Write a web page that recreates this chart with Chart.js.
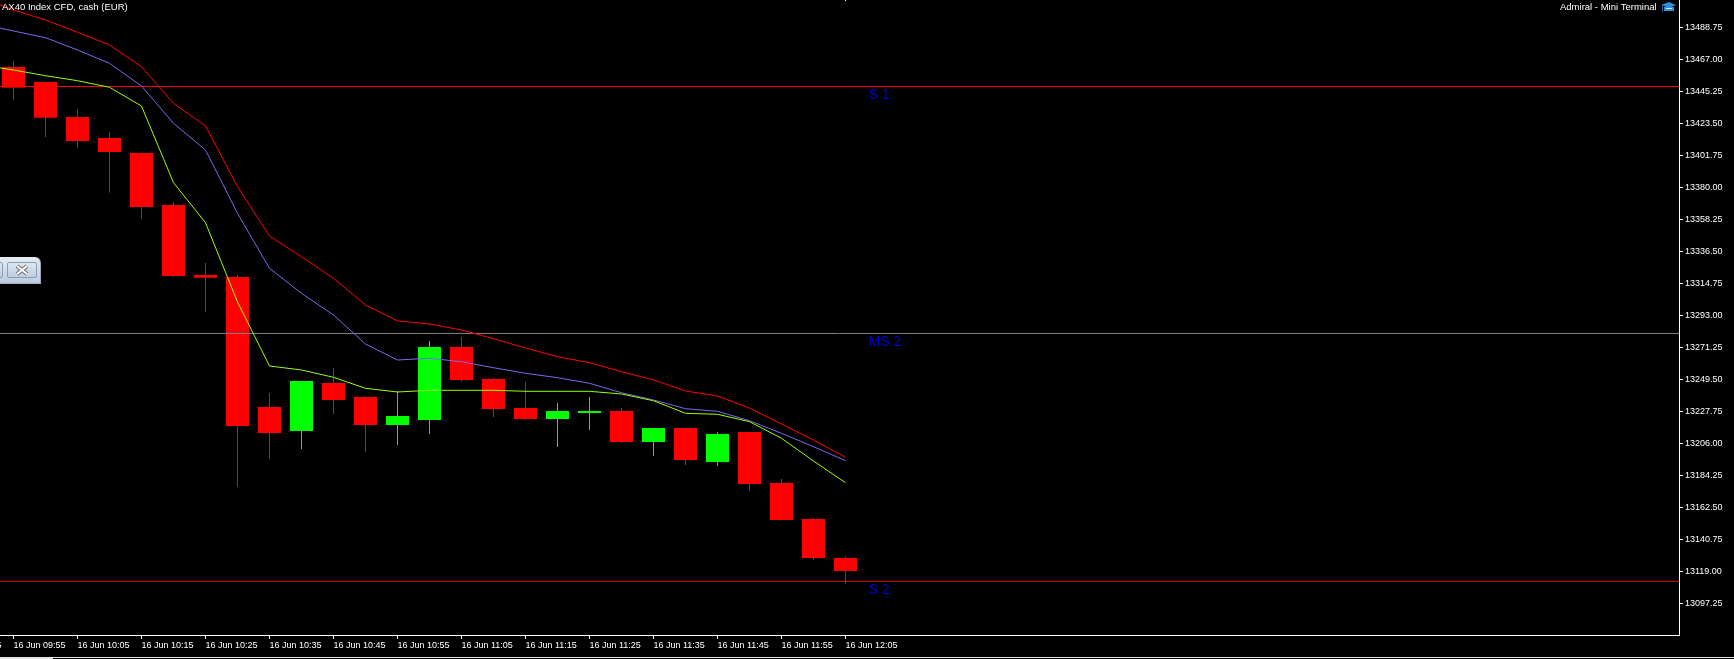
<!DOCTYPE html>
<html>
<head>
<meta charset="utf-8">
<title>AX40 Index CFD</title>
<script src="https://cdn.jsdelivr.net/npm/chart.js@4"></script>
<style>
html, body { margin: 0; padding: 0; background: #000; overflow: hidden; }
#wrap { position: relative; width: 1734px; height: 659px; }
#chart { position: absolute; left: 0; top: 0; }
#closer { position: absolute; left: 0; top: 257px; width: 41px; height: 27px; border-top-right-radius: 6px;
  background: linear-gradient(#e6ecf3, #bccbdd); border-bottom: 1px solid #9aa8b8; border-right: 1px solid #9aa8b8; box-sizing: border-box; }
#closer .btn { position: absolute; top: 5px; height: 16px; border: 1px solid #8c9db3; border-radius: 2px; background: linear-gradient(#dfe7f1, #bdcde0); box-sizing: border-box; }
#stripe { position: absolute; left: 0; top: 657px; width: 1734px; height: 1px; background: #e4e4e4; }
#stripe2 { position: absolute; left: 0; top: 658px; width: 53px; height: 1px; background: #e4e4e4; }
</style>
</head>
<body>
<div id="wrap">
  <canvas id="chart" width="1734" height="657"></canvas>
  <div id="closer">
    <div class="btn" style="left:-10px;width:13px"></div>
    <div class="btn" style="left:7px;width:30px">
      <svg width="28" height="14" style="display:block"><path d="M9 3L19 11M19 3L9 11" stroke="#6b6b6b" stroke-width="4"/><path d="M9 3L19 11M19 3L9 11" stroke="#fff" stroke-width="2"/></svg>
    </div>
  </div>
  <div id="stripe"></div>
  <div id="stripe2"></div>
</div>
<script>
// bar 0 = 16 Jun 09:55, 5 minute bars
var open = [13461.79,13451.59,13427.81,13413.53,13403.34,13367.99,13320.41,13319.05,13230.69,13214.38,13247.00,13237.49,13218.46,13221.86,13271.47,13249.72,13230.01,13222.54,13226.61,13227.97,13206.90,13216.42,13193.31,13213.70,13179.03,13154.57,13128.06];
var high = [13465.87,13451.59,13433.24,13417.61,13403.34,13370.03,13328.57,13320.41,13240.21,13248.36,13257.20,13237.49,13241.57,13275.55,13278.27,13250.40,13247.68,13233.41,13237.49,13230.01,13216.42,13216.42,13213.70,13213.70,13181.75,13155.25,13129.42];
var low = [13439.56,13414.21,13406.94,13376.35,13358.48,13319.05,13295.47,13176.52,13195.35,13202.14,13225.93,13200.11,13204.86,13212.34,13247.68,13223.90,13222.54,13203.50,13215.06,13206.22,13197.39,13191.27,13190.59,13173.60,13153.89,13126.70,13110.39];
var close = [13447.72,13427.33,13411.49,13404.02,13366.63,13319.73,13318.58,13217.78,13213.02,13248.36,13235.45,13218.46,13224.57,13271.47,13249.04,13229.33,13222.54,13227.97,13227.97,13206.90,13216.42,13194.67,13212.34,13178.36,13153.89,13128.06,13119.22];

// moving averages start one bar before the first candle
var maRed = [13508.69,13500.53,13493.74,13485.38,13476.74,13461.99,13437.12,13421.69,13380.43,13346.92,13332.85,13318.17,13300.02,13289.15,13287.11,13283.03,13277.11,13270.80,13264.88,13260.81,13254.69,13249.04,13241.57,13238.17,13230.01,13219.14,13208.27,13196.51];
var maBlue = [13491.02,13486.26,13481.71,13473.35,13464.31,13448.88,13423.52,13405.37,13362.35,13324.97,13307.97,13293.22,13273.51,13262.64,13263.79,13261.48,13257.40,13253.60,13250.61,13246.80,13240.41,13235.45,13229.54,13227.77,13221.38,13212.81,13203.70,13194.20];
var maGreen = [13463.15,13459.75,13455.88,13452.48,13447.99,13435.28,13383.15,13355.96,13302.06,13258.56,13255.84,13250.88,13243.40,13240.89,13242.04,13242.04,13242.04,13241.36,13241.36,13241.36,13239.53,13234.97,13226.42,13225.74,13220.71,13209.42,13193.99,13179.24];

var levelNames = ["S 1", "MS 2", "S 2"];
var levelValues = [13448.54, 13280.65, 13112.09];
var levelColors = ["#ff0000", "#808080", "#d40000"];

var yTicks = [13488.75,13467.00,13445.25,13423.50,13401.75,13380.00,13358.25,13336.50,13314.75,13293.00,13271.25,13249.50,13227.75,13206.00,13184.25,13162.50,13140.75,13119.00,13097.25];
var xTickBars = [-2,0,2,4,6,8,10,12,14,16,18,20,22,24,26];
var xTickLabels = ["16 Jun 09:45","16 Jun 09:55","16 Jun 10:05","16 Jun 10:15","16 Jun 10:25","16 Jun 10:35","16 Jun 10:45","16 Jun 10:55","16 Jun 11:05","16 Jun 11:15","16 Jun 11:25","16 Jun 11:35","16 Jun 11:45","16 Jun 11:55","16 Jun 12:05"];

var UP = "#00ff00", DOWN = "#ff0000";
var xMin = -0.421875, xMax = 52.046875;
var yMax = 13507.33, yMin = 13075.72;

var colors = open.map(function (o, i) { return close[i] > o ? UP : DOWN; });
var wicks = open.map(function (o, i) { return { x: i, y: [low[i], high[i]] }; });
var bodies = open.map(function (o, i) { return { x: i, y: [o, close[i]] }; });

function maLine(name, values, color, order) {
    return {
        type: "line", label: name, order: order, borderColor: color, borderWidth: 1,
        pointRadius: 0, tension: 0, fill: false,
        data: values.map(function (v, i) { return { x: i - 1, y: v }; })
    };
}

var datasets = [
    { type: "bar", label: "wick", order: 6, grouped: false, barThickness: 1, inflateAmount: 0, backgroundColor: colors, data: wicks },
    { type: "bar", label: "body", order: 5, grouped: false, barThickness: 23, inflateAmount: 0, backgroundColor: colors, data: bodies },
    maLine("MA slow", maRed, "#ff0000", 2),
    maLine("MA mid", maBlue, "#7b68ee", 1),
    maLine("MA fast", maGreen, "#9aff00", 0)
];
levelValues.forEach(function (v, i) {
    datasets.push({
        type: "line", label: levelNames[i], order: 3, borderColor: levelColors[i], borderWidth: 1,
        pointRadius: 0, data: [{ x: xMin, y: v }, { x: xMax, y: v }]
    });
});

// texts and the small terminal marks
var overlay = {
    id: "overlay",
    afterDraw: function (chart) {
        var ctx = chart.ctx, sx = chart.scales.x, sy = chart.scales.y;
        ctx.save();
        ctx.textBaseline = "alphabetic";
        ctx.textAlign = "left";
        ctx.fillStyle = "#0000cd";
        ctx.font = "14px 'Liberation Sans'";
        levelNames.forEach(function (t, i) {
            ctx.fillText(t, sx.getPixelForValue(26.72), sy.getPixelForValue(levelValues[i]) + 13);
        });
        ctx.fillStyle = "#ffffff";
        ctx.font = "9.5px 'Liberation Sans'";
        ctx.fillText("AX40 Index CFD, cash (EUR)", 2, 10);
        ctx.fillText("Admiral - Mini Terminal", 1560, 10);
        ctx.fillRect(Math.floor(sx.getPixelForValue(26)), 0, 1, 1);
        // graduation cap icon
        ctx.fillStyle = "#2f8fd8";
        ctx.beginPath();
        ctx.moveTo(1661, 5); ctx.lineTo(1669, 2); ctx.lineTo(1676, 5); ctx.lineTo(1669, 8);
        ctx.fill();
        ctx.fillRect(1664, 7, 10, 4);
        ctx.fillStyle = "#d8eefc";
        ctx.fillRect(1666, 8, 6, 1);
        ctx.fillStyle = "#1a5f9e";
        ctx.fillRect(1662, 5, 1, 7);
        ctx.restore();
    }
};

function noPadding(scale) {
    scale.paddingLeft = 0;
    scale.paddingRight = 0;
    scale.paddingTop = 0;
    scale.paddingBottom = 0;
}

new Chart(document.getElementById("chart"), {
    data: { datasets: datasets },
    plugins: [overlay],
    options: {
        responsive: false,
        animation: false,
        events: [],
        layout: { padding: 0 },
        plugins: { legend: { display: false }, tooltip: { enabled: false }, title: { display: false } },
        scales: {
            x: {
                type: "linear", min: xMin, max: xMax, offset: false,
                border: { color: "#ffffff", width: 1 },
                grid: { offset: false, drawOnChartArea: false, color: "#ffffff", tickLength: 4 },
                afterBuildTicks: function (scale) {
                    scale.ticks = xTickBars.map(function (v) { return { value: v }; });
                },
                afterFit: function (scale) { scale.height = 22; noPadding(scale); },
                ticks: {
                    autoSkip: false, maxRotation: 0, minRotation: 0, align: "start", padding: 1,
                    color: "#ffffff", font: { family: "'Liberation Sans'", size: 9 },
                    callback: function (value, index) { return xTickLabels[index]; }
                }
            },
            y: {
                type: "linear", position: "right", min: yMin, max: yMax,
                border: { color: "#ffffff", width: 1 },
                grid: { drawOnChartArea: false, color: "#ffffff", tickLength: 4 },
                afterBuildTicks: function (scale) {
                    scale.ticks = yTicks.map(function (v) { return { value: v }; });
                },
                afterFit: function (scale) { scale.width = 55; noPadding(scale); },
                ticks: {
                    padding: 2, color: "#ffffff", font: { family: "'Liberation Sans'", size: 9 },
                    callback: function (value) { return value.toFixed(2); }
                }
            }
        }
    }
});
</script>
</body>
</html>
